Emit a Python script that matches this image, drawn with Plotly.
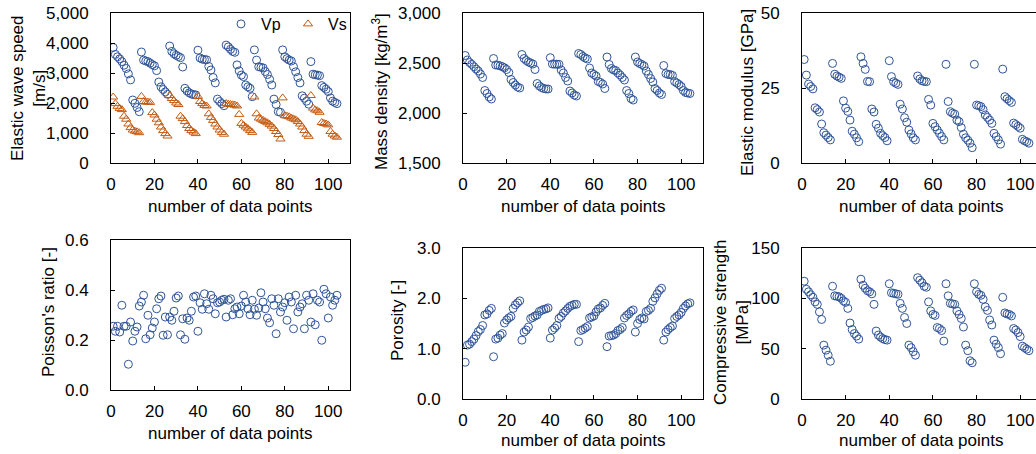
import plotly.graph_objects as go

x = list(range(1, 105))

vp = [3850, 3620, 3540, 3470, 3380, 3260, 3150, 2970, 2770, 2100, 1990, 1850, 1710,
      3700, 3430, 3400, 3380, 3330, 3280, 3240, 3080, 2700, 2540, 2450, 2370, 2290,
      3900, 3720, 3640, 3590, 3550, 3510, 3200, 2490, 2400, 2340, 2300, 2280, 2270,
      3760, 3500, 3460, 3450, 3440, 3220, 3100, 2850, 2670, 2130, 2050, 1980, 1910,
      3930, 3870, 3790, 3720, 3690, 3270, 3070, 2930, 2880, 2600, 2540, 2490, 2210,
      3770, 3430, 3210, 3190, 3170, 3050, 2950, 2790, 2600, 2130, 1950, 1710, 1690,
      3770, 3540, 3480, 3430, 3400, 3210, 3040, 2850, 2670, 2240, 2160, 2060, 1960,
      3380, 2960, 2940, 2930, 2910, 2580, 2520, 2460, 2380, 2170, 2060, 2020, 1980]

vs = [2200, 1980, 1890, 1820, 1780, 1560, 1460, 1300, 1180, 1100, 1060, 1040, 1010,
      2220, 2050, 2030, 2030, 2020, 1680, 1600, 1460, 1340, 1200, 1080, 980, 900,
      2250, 2150, 2080, 2000, 1950, 1560, 1480, 1380, 1250, 1150, 1080, 1030, 980,
      2220, 2050, 1980, 1920, 1900, 1640, 1520, 1420, 1300, 1200, 1100, 1020, 960,
      1980, 1960, 1950, 1940, 1930, 1900, 1620, 1320, 1260, 1200, 1140, 1080, 1020,
      2200, 1640, 1500, 1460, 1420, 1380, 1340, 1290, 1230, 1150, 1050, 950, 800,
      2170, 1580, 1560, 1540, 1500, 1470, 1440, 1380, 1300, 1200, 1080, 960, 890,
      2250, 1830, 1770, 1740, 1690, 1350, 1320, 1300, 1270, 1050, 960, 900, 860]

density = [2575, 2530, 2505, 2487, 2463, 2440, 2420, 2390, 2355, 2225, 2195, 2160, 2140,
           2545, 2480, 2478, 2472, 2463, 2452, 2435, 2405, 2335, 2305, 2280, 2260, 2250,
           2585, 2545, 2525, 2510, 2500, 2490, 2435, 2295, 2270, 2255, 2245, 2240, 2240,
           2553, 2490, 2488, 2488, 2487, 2430, 2400, 2355, 2320, 2220, 2200, 2180, 2170,
           2595, 2585, 2565, 2550, 2540, 2450, 2400, 2385, 2370, 2315, 2305, 2290, 2245,
           2560, 2485, 2445, 2430, 2425, 2400, 2380, 2355, 2330, 2225, 2195, 2145, 2130,
           2560, 2510, 2495, 2485, 2470, 2420, 2385, 2345, 2310, 2245, 2225, 2200, 2185,
           2475, 2395, 2385, 2385, 2375, 2315, 2300, 2285, 2265, 2225, 2205, 2200, 2195]

modulus = [34.5, 29.3, 26.3, 25.5, 24.7, 18.4, 17.8, 17.0, 13.0, 10.1, 9.3, 8.5, 7.7,
           33.2, 29.6, 29.0, 28.6, 28.2, 20.7, 18.3, 17.2, 14.3, 10.6, 9.6, 8.4, 7.1,
           35.4, 33.2, 31.2, 27.2, 27.1, 18.0, 17.0, 12.9, 11.6, 9.9, 9.1, 8.5, 7.4,
           34.1, 28.8, 27.1, 26.6, 26.2, 19.6, 18.0, 15.1, 13.6, 11.0, 9.7, 8.4, 7.7,
           29.0, 28.0, 27.4, 27.2, 27.1, 21.2, 19.3, 13.2, 12.1, 11.0, 9.9, 8.8, 7.7,
           32.9, 20.5, 17.1, 16.6, 16.3, 14.3, 13.8, 11.8, 9.6, 8.4, 7.6, 6.6, 5.1,
           32.9, 19.3, 19.1, 18.8, 17.8, 16.0, 15.2, 14.3, 13.2, 9.9, 8.8, 7.7, 6.3,
           31.3, 22.1, 21.4, 20.8, 20.2, 13.3, 12.8, 12.2, 11.6, 7.9, 7.4, 7.1, 6.6]

poisson = [0.255, 0.235, 0.255, 0.232, 0.339, 0.255, 0.255, 0.103, 0.272, 0.196, 0.235, 0.252, 0.336,
           0.352, 0.379, 0.205, 0.299, 0.221, 0.248, 0.272, 0.325, 0.365, 0.376, 0.219, 0.292, 0.221,
           0.292, 0.279, 0.315, 0.368, 0.376, 0.221, 0.285, 0.203, 0.288, 0.279, 0.315, 0.372, 0.376,
           0.235, 0.349, 0.323, 0.385, 0.345, 0.323, 0.379, 0.365, 0.305, 0.349, 0.352, 0.359, 0.363,
           0.292, 0.359, 0.365, 0.301, 0.325, 0.332, 0.305, 0.336, 0.379, 0.352, 0.325, 0.301, 0.359,
           0.323, 0.299, 0.328, 0.389, 0.352, 0.325, 0.288, 0.269, 0.365, 0.339, 0.225, 0.365, 0.312,
           0.332, 0.349, 0.279, 0.372, 0.352, 0.245, 0.379, 0.312, 0.332, 0.345, 0.245, 0.379, 0.359,
           0.272, 0.385, 0.261, 0.359, 0.352, 0.199, 0.403, 0.385, 0.288, 0.372, 0.339, 0.359, 0.379]

porosity = [0.73, 1.07, 1.09, 1.14, 1.19, 1.26, 1.34, 1.38, 1.46, 1.67, 1.69, 1.76, 1.80,
            0.84, 1.19, 1.21, 1.27, 1.30, 1.51, 1.57, 1.61, 1.64, 1.80, 1.87, 1.91, 1.95,
            1.17, 1.33, 1.37, 1.43, 1.60, 1.62, 1.65, 1.67, 1.74, 1.76, 1.78, 1.79, 1.81,
            1.21, 1.37, 1.41, 1.46, 1.60, 1.64, 1.71, 1.75, 1.80, 1.84, 1.86, 1.88, 1.88,
            1.14, 1.36, 1.38, 1.41, 1.44, 1.61, 1.63, 1.65, 1.73, 1.79, 1.81, 1.86, 1.90,
            1.04, 1.25, 1.26, 1.27, 1.30, 1.36, 1.38, 1.42, 1.61, 1.66, 1.69, 1.74, 1.77,
            1.33, 1.50, 1.58, 1.61, 1.59, 1.74, 1.76, 1.80, 1.94, 2.01, 2.09, 2.16, 2.20,
            1.17, 1.33, 1.38, 1.42, 1.45, 1.60, 1.64, 1.67, 1.72, 1.80, 1.85, 1.89, 1.91]

strength = [117, 109, 106.5, 103.5, 101, 96.5, 94, 86.5, 79, 53.5, 48.5, 43.5, 37.5,
            112, 102.5, 102, 101.5, 100, 97.5, 96, 90, 75.5, 69, 65, 62.5, 59.5,
            119, 113, 110, 107.5, 106.5, 104.5, 94, 67.5, 63.5, 61.5, 60, 59, 58.5,
            114.5, 105.5, 105, 104.5, 104, 95, 90, 81, 75, 53.5, 51, 47, 43.5,
            120.5, 118, 115.5, 112, 111, 96.5, 87.5, 84, 83, 71, 70, 68, 57.5,
            114.5, 102.5, 95, 94.5, 94, 87.5, 84, 80, 71.5, 53.5, 48, 38, 36,
            114.5, 106.5, 104, 103, 99, 91.5, 88, 78.5, 73.5, 58.5, 54.5, 51, 45,
            101, 85.5, 84.5, 84, 82.5, 70, 68.5, 66, 62, 52.5, 51, 49.5, 48]

BLUE = "#2F5597"
ORANGE = "#C55A11"
FONT = "Liberation Sans, Arial, sans-serif"
W, H = 1036, 454

# panel pixel boxes: (left, right, top, bottom)
boxes = [(111, 350, 13, 163), (463, 703, 13, 163), (802, 1042, 13, 163),
         (111, 350, 240, 390), (463, 703, 248, 399), (802, 1042, 248, 399)]
yranges = [[0, 5000], [1500, 3000], [0, 50], [0, 0.6], [0, 3], [0, 150]]
ydticks = [1000, 500, 25, 0.2, 1, 50]
yformats = [",d", ",d", "d", ".1f", ".1f", "d"]

fig = go.Figure()

def circ(xs, ys, i, name="Vp", show=False):
    sfx = "" if i == 1 else str(i)
    return go.Scatter(x=xs, y=ys, mode="markers", name=name, showlegend=show,
                      xaxis="x" + sfx, yaxis="y" + sfx,
                      marker=dict(symbol="circle-open", size=8, color=BLUE,
                                  line=dict(width=1, color=BLUE)))

fig.add_trace(circ(x, vp, 1, "Vp", True))
fig.add_trace(go.Scatter(x=x, y=vs, mode="markers", name="Vs", showlegend=True,
                         xaxis="x", yaxis="y",
                         marker=dict(symbol="triangle-up-open", size=8, color=ORANGE,
                                     line=dict(width=1, color=ORANGE))))
fig.add_trace(circ(x, density, 2))
fig.add_trace(circ(x, modulus, 3))
fig.add_trace(circ(x, poisson, 4))
fig.add_trace(circ(x, porosity, 5))
fig.add_trace(circ(x, strength, 6))

layout = dict(template="none", width=W, height=H,
              margin=dict(l=0, r=0, t=0, b=0, autoexpand=False),
              paper_bgcolor="white", plot_bgcolor="white",
              font=dict(family=FONT, size=17, color="black"),
              legend=dict(orientation="h", x=355 / W, xanchor="right",
                          y=1 - 7 / H, yanchor="top", bgcolor="rgba(0,0,0,0)",
                          font=dict(size=16), itemwidth=30, entrywidth=22,
                          tracegroupgap=0, borderwidth=0))

for i, (l, r, t, b) in enumerate(boxes):
    n = i + 1
    sfx = "" if n == 1 else str(n)
    xr_max = 110
    xd1 = r / W
    clipped = r > W
    if clipped:
        xr_max = 110 * (W - l) / (r - l)
        xd1 = 1.0
    layout["xaxis" + sfx] = dict(
        domain=[l / W, xd1], range=[0, xr_max], anchor="y" + sfx,
        tickvals=[0, 20, 40, 60, 80, 100], ticks="inside", ticklen=4,
        tickcolor="black", showline=True, linecolor="black", linewidth=1,
        mirror=True, showgrid=False, zeroline=False, automargin=False,
        ticklabelstandoff=6, tickfont=dict(size=17))
    layout["yaxis" + sfx] = dict(
        domain=[1 - b / H, 1 - t / H], range=yranges[i], anchor="x" + sfx,
        dtick=ydticks[i], tick0=yranges[i][0], tickformat=yformats[i],
        ticks="inside", ticklen=4, tickcolor="black", showline=True,
        linecolor="black", linewidth=1, mirror=False if clipped else True,
        showgrid=False, zeroline=False, automargin=False,
        ticklabelstandoff=18, tickfont=dict(size=17))

fig.update_layout(**layout)

ytitles = [
    ("Elastic wave speed<br>[m/s]", 29, 88),
    ("Mass density [kg/m<sup>3</sup>]", 380, 92),
    ("Elastic modulus [GPa]", 747, 93),
    ("Poisson's ratio [-]", 48, 312),
    ("Porosity [-]", 397, 321),
    ("Compressive strength<br>[MPa]", 731, 323),
]
for txt, px, py in ytitles:
    fig.add_annotation(text=txt, x=px / W, y=1 - py / H, xref="paper", yref="paper",
                       textangle=-90, showarrow=False, xanchor="center",
                       yanchor="middle", font=dict(size=17))

xtitles = [(230, 206), (583, 206), (921, 206), (230, 433), (583, 440), (921, 440)]
for px, py in xtitles:
    fig.add_annotation(text="number of data points", x=px / W, y=1 - py / H,
                       xref="paper", yref="paper", showarrow=False,
                       xanchor="center", yanchor="middle", font=dict(size=17))

fig.write_html("out.html",
               config={"displayModeBar": False},
               post_script="document.body.style.margin='0px';"
                           "document.body.style.overflow='hidden';")
